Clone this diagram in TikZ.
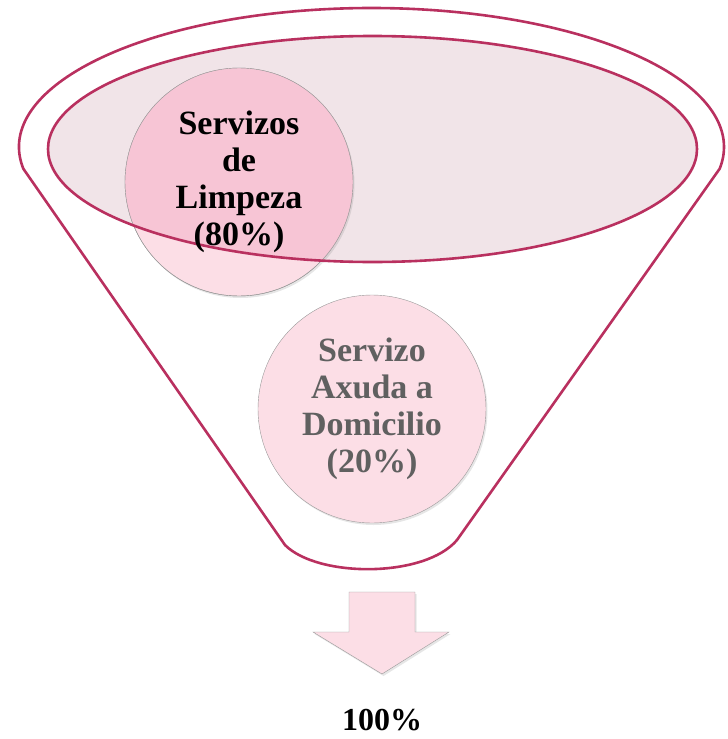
\documentclass[tikz,border=0pt]{standalone}
\usepackage{fontspec}
\setmainfont{Liberation Serif}
\usetikzlibrary{shadows}
\definecolor{fnlred}{RGB}{185,48,95}
\definecolor{fnlmist}{RGB}{241,228,232}
\definecolor{fnlpink}{RGB}{252,222,230}
\definecolor{fnldeep}{RGB}{247,197,213}
\definecolor{fnlgray}{RGB}{96,96,96}

\begin{document}
\begin{tikzpicture}[x=1pt, y=-1pt,
    bubble/.style={circle, draw=gray!80, thin, fill=fnlpink, minimum size=228pt, inner sep=0pt,
      drop shadow={shadow xshift=1.5pt, shadow yshift=-2pt, opacity=0.2}},
    bubbletext/.style={align=center, font=\fontsize{34}{37}\selectfont\bfseries}]
                \useasboundingbox (0,0) rectangle (728,739);

                % Funnel outline
                \draw[fnlred, line width=2.6pt, line join=round]
                  (371.5,147) ++(171:352.5 and 139) arc[start angle=171, end angle=369, x radius=352.5, y radius=139]
                  -- (457,540) .. controls (425,578) and (318,578) .. (285,545) -- cycle;

                % Mouth of the funnel
                \fill[fnlmist] (372.5,149) ellipse[x radius=324.5, y radius=113];

                % Services
                \node[bubble] (limpeza) at (239,182) {};
                \begin{scope}
                  \clip (372.5,149) ellipse[x radius=324.5, y radius=113];
                  \fill[fnldeep] (limpeza.center) circle[radius=114];
                \end{scope}
                \draw[gray!80, thin] (limpeza.center) circle[radius=114];
                \draw[fnlred, line width=2.6pt] (372.5,149) ellipse[x radius=324.5, y radius=113];
                \node[bubbletext] at (limpeza) {Servizos\\de\\Limpeza\\(80\%)};

                \node[bubble] (axuda) at (372,409) {};
                \node[bubbletext, text=fnlgray] at (axuda) {Servizo\\Axuda a\\Domicilio\\(20\%)};

                % Output arrow
                \draw[gray!80, thin, fill=fnlpink, drop shadow={shadow xshift=1.5pt, shadow yshift=-2pt, opacity=0.2}]
                  (349,592) -- (415,592) -- (415,632) -- (449,632) -- (382,674) -- (313,632) -- (349,632) -- cycle;
                \node[font=\fontsize{32}{36}\selectfont\bfseries, anchor=base, inner sep=0pt] (total) at (382,730) {100\%};
            \end{tikzpicture}
\end{document}
